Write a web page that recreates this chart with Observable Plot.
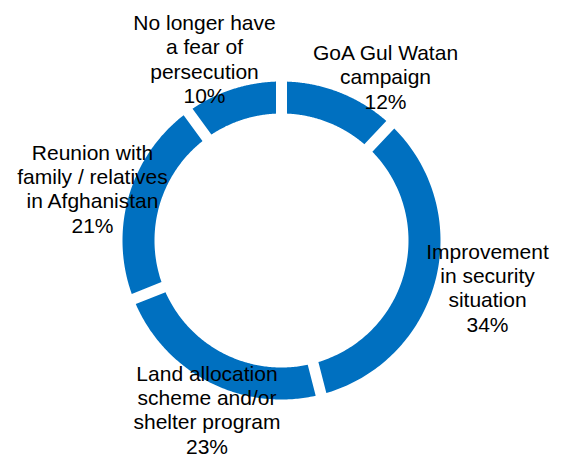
<!DOCTYPE html>
<html>
<head>
<meta charset="utf-8">
<script src="https://cdn.jsdelivr.net/npm/d3@7"></script>
<script src="https://cdn.jsdelivr.net/npm/@observablehq/plot@0.6"></script>
<style>
  html, body { margin: 0; padding: 0; background: #fff; }
  #chart { width: 568px; height: 457px; }
</style>
</head>
<body>
<div id="chart"></div>
<script>
// Data (clockwise from 12 o'clock)
const categories = [
  "GoA Gul Watan\ncampaign",
  "Improvement\nin security\nsituation",
  "Land allocation\nscheme and/or\nshelter program",
  "Reunion with\nfamily / relatives\nin Afghanistan",
  "No longer have\na fear of\npersecution"
];
const values = [12, 34, 23, 21, 10];
const percentLabels = ["12%", "34%", "23%", "21%", "10%"];

// Layout (pixel units relative to ring centre, y up)
const labelPos = [[104, 164], [206, -47], [-74.5, -169], [-189, 52], [-77, 181.7]];
const W = 568, H = 457, CX = 281, CY = 240;
const R_OUT = 159, R_IN = 127, HALF_GAP = 5.5, STEPS = 120;

const pie = d3.pie().sort(null).value(d => d.value);
const rows = categories.map((c, i) => ({category: c, value: values[i], pct: percentLabels[i], pos: labelPos[i]}));
const arcs = pie(rows);

const poly = [];
arcs.forEach((a, k) => {
  const dOut = Math.asin(HALF_GAP / R_OUT), dIn = Math.asin(HALF_GAP / R_IN);
  const o0 = a.startAngle + dOut, o1 = a.endAngle - dOut;
  const i0 = a.startAngle + dIn, i1 = a.endAngle - dIn;
  for (let s = 0; s <= STEPS; s++) {
    const t = o0 + (o1 - o0) * s / STEPS;
    poly.push({slice: k, x: R_OUT * Math.sin(t), y: R_OUT * Math.cos(t)});
  }
  for (let s = 0; s <= STEPS; s++) {
    const t = i1 + (i0 - i1) * s / STEPS;
    poly.push({slice: k, x: R_IN * Math.sin(t), y: R_IN * Math.cos(t)});
  }
});

const labels = rows.map(r => ({text: r.category + "\n" + r.pct, x: r.pos[0], y: r.pos[1]}));

const chart = Plot.plot({
  width: W, height: H,
  margin: 0,
  x: {domain: [-CX, W - CX], axis: null},
  y: {domain: [-(H - CY), CY], axis: null},
  style: {fontFamily: "'Liberation Sans', Arial, sans-serif", background: "#fff"},
  marks: [
    Plot.line(poly, {x: "x", y: "y", z: "slice", fill: "#0070C0", stroke: "none", curve: "linear-closed"}),
    Plot.text(labels, {x: "x", y: "y", text: "text", fontSize: 21, lineHeight: 1.157, fill: "#000", textAnchor: "middle", lineAnchor: "middle"})
  ]
});
document.getElementById("chart").appendChild(chart);
</script>
</body>
</html>
